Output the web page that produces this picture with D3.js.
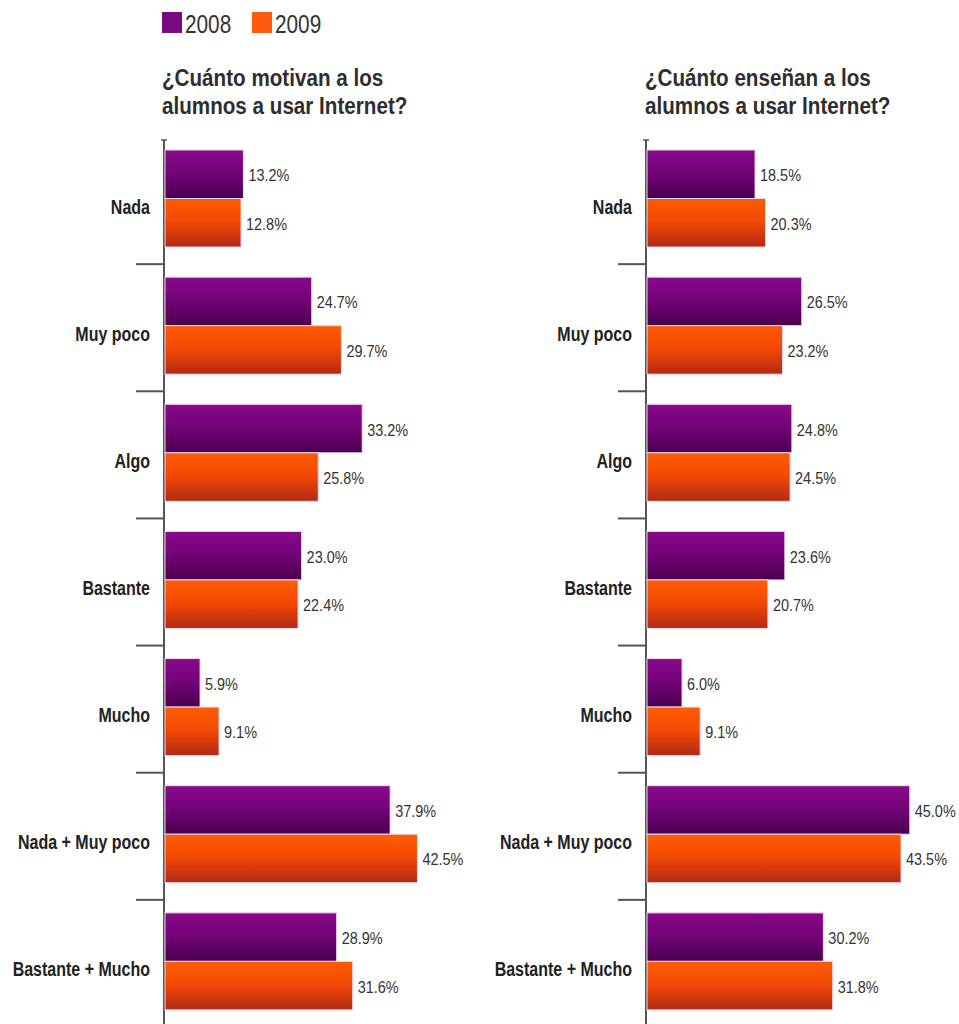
<!DOCTYPE html>
<html>
<head>
<meta charset="utf-8">
<script src="https://cdn.jsdelivr.net/npm/d3@7"></script>
<style>
  html, body { margin: 0; padding: 0; background: #fff; }
  svg { display: block; }
  text { font-family: "Liberation Sans", Arial, sans-serif; }
</style>
</head>
<body>
<svg id="chart" width="959" height="1024"></svg>
<script>
// Response categories (top to bottom)
const categories = ["Nada", "Muy poco", "Algo", "Bastante", "Mucho", "Nada + Muy poco", "Bastante + Mucho"];
const years = ["2008", "2009"];

// ¿Cuánto motivan a los alumnos a usar Internet?  (% of respondents)
const motivan2008 = [13.2, 24.7, 33.2, 23.0, 5.9, 37.9, 28.9];
const motivan2009 = [12.8, 29.7, 25.8, 22.4, 9.1, 42.5, 31.6];

// ¿Cuánto enseñan a los alumnos a usar Internet?  (% of respondents)
const ensenan2008 = [18.5, 26.5, 24.8, 23.6, 6.0, 45.0, 30.2];
const ensenan2009 = [20.3, 23.2, 24.5, 20.7, 9.1, 43.5, 31.8];

const panelTitles = [
  ["¿Cuánto motivan a los", "alumnos a usar Internet?"],
  ["¿Cuánto enseñan a los", "alumnos a usar Internet?"]
];

const svg = d3.select("#chart");
const fmt = d3.format(".1f");

// Narrow type: squeeze text horizontally around its anchor point
function place(sel, x, y, sx) {
  return sel.attr("transform", (d, i) => {
    const xx = typeof x === "function" ? x(d, i) : x;
    const yy = typeof y === "function" ? y(d, i) : y;
    return `translate(${xx},${yy}) scale(${sx},1)`;
  });
}

// Gradients for the bar fills
const defs = svg.append("defs");
const gradStops = {
  "2008": [["0%", "#880a8c"], ["45%", "#740378"], ["100%", "#4a0050"]],
  "2009": [["0%", "#ff5c00"], ["45%", "#f44a05"], ["100%", "#b22a14"]]
};
years.forEach(y => {
  const g = defs.append("linearGradient")
    .attr("id", "grad" + y).attr("x1", 0).attr("y1", 0).attr("x2", 0).attr("y2", 1);
  gradStops[y].forEach(([o, c]) => g.append("stop").attr("offset", o).attr("stop-color", c));
});

const legendColor = { "2008": "#7a0a80", "2009": "#ff5a10" };

// Legend
const legend = svg.append("g").attr("transform", "translate(162,12)");
years.forEach((y, i) => {
  const g = legend.append("g").attr("transform", `translate(${i * 90},0)`);
  g.append("rect").attr("width", 20).attr("height", 21).attr("fill", legendColor[y]);
  place(g.append("text"), 23, 21, 0.8)
    .attr("font-size", 26).attr("fill", "#333").text(y);
});

const panels = [
  { left: 165, width: 297, labelX: 150, titleX: 162, v2008: motivan2008, v2009: motivan2009, title: panelTitles[0] },
  { left: 647, width: 292, labelX: 632, titleX: 645, v2008: ensenan2008, v2009: ensenan2009, title: panelTitles[1] }
];

const y = d3.scaleBand().domain(categories).range([137, 1027]);
const sub = d3.scaleBand().domain(years).range([13, 110]);

panels.forEach(p => {
  const x = d3.scaleLinear().domain([0, 50]).range([p.left, p.left + p.width]);
  const g = svg.append("g");

  // Title
  p.title.forEach((line, i) => {
    place(g.append("text"), p.titleX, 86 + i * 28, 0.86)
      .attr("font-size", 24).attr("font-weight", "bold").attr("fill", "#2e2e2e").text(line);
  });

  // Axis with outward ticks at category boundaries
  const axisG = g.append("g").attr("transform", `translate(${p.left - 1},0)`);
  axisG.append("line")
    .attr("y1", 140).attr("y2", 1027)
    .attr("stroke", "#555").attr("stroke-width", 2);
  axisG.append("line")
    .attr("x1", -3).attr("x2", 3).attr("y1", 140).attr("y2", 140)
    .attr("stroke", "#555").attr("stroke-width", 1.5);
  axisG.selectAll("line.tick")
    .data(categories.slice(1))
    .join("line").attr("class", "tick")
    .attr("x1", -28).attr("x2", 0)
    .attr("y1", d => y(d)).attr("y2", d => y(d))
    .attr("stroke", "#555").attr("stroke-width", 2);

  // Category labels
  place(g.selectAll("text.cat").data(categories).join("text").attr("class", "cat"),
        p.labelX, d => y(d) + y.bandwidth() / 2 + 13, 0.8)
    .attr("text-anchor", "end")
    .attr("font-size", 20).attr("font-weight", "bold").attr("fill", "#222")
    .text(d => d);

  // Bars
  const rows = categories.map((c, i) => ({ cat: c, vals: [
    { year: "2008", v: p.v2008[i] }, { year: "2009", v: p.v2009[i] }
  ]}));
  const grp = g.selectAll("g.grp").data(rows).join("g").attr("class", "grp")
    .attr("transform", d => `translate(0,${y(d.cat)})`);
  grp.selectAll("rect")
    .data(d => d.vals)
    .join("rect")
    .attr("x", x(0))
    .attr("y", d => sub(d.year))
    .attr("width", d => x(d.v) - x(0))
    .attr("height", sub.bandwidth())
    .attr("fill", d => `url(#grad${d.year})`)
    .attr("stroke", "#f2d6ec").attr("stroke-width", 1);
  place(grp.selectAll("text.val").data(d => d.vals).join("text").attr("class", "val"),
        d => x(d.v) + 5, d => sub(d.year) + sub.bandwidth() / 2 + 7, 0.85)
    .attr("font-size", 17).attr("fill", "#333")
    .text(d => fmt(d.v) + "%");
});
</script>
</body>
</html>
